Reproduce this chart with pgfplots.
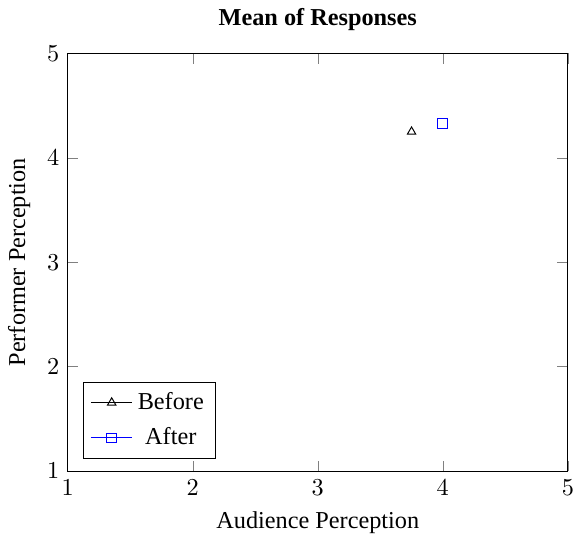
\documentclass[border=0pt]{standalone}
\usepackage{fontspec}
\setmainfont{Liberation Serif}
\usepackage{pgfplots}
\pgfplotsset{compat=1.18}
\begin{document}
\begin{tikzpicture}
\begin{axis}[
  scale only axis,
  width=206pt, height=172pt,
  title={\textbf{Mean of Responses}},
  xlabel={Audience Perception},
  ylabel={Performer Perception},
  xmin=1, xmax=5, ymin=1, ymax=5,
  xtick={1,2,3,4,5}, ytick={1,2,3,4,5},
  legend pos=south west,
  legend style={row sep=2pt},
]
\addplot[color=black, mark=triangle, mark options={black}] coordinates {(3.75,4.25)};
\addplot[color=blue, mark=square, mark options={blue}] coordinates {(4.0,4.33)};
\legend{Before, After}
\end{axis}
\end{tikzpicture}
\end{document}
